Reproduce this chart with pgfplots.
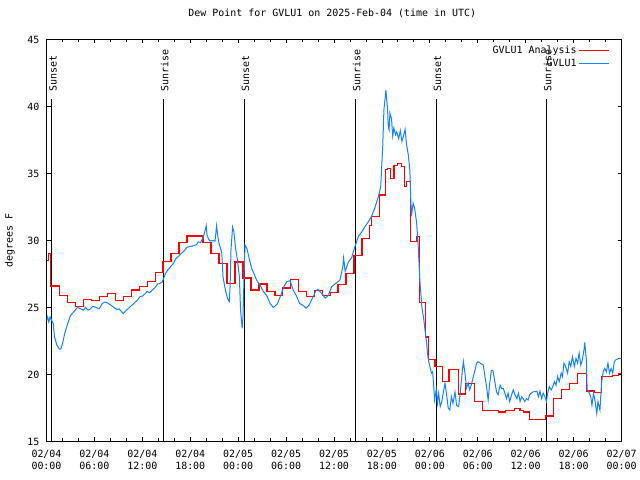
\documentclass[border=0pt]{standalone}
\usepackage{pgfplots}
\pgfplotsset{compat=1.18}
\usepackage{fontspec}
\setmainfont{DejaVu Sans Mono}
\definecolor{obsblue}{RGB}{20,130,255}
\definecolor{anared}{RGB}{255,0,0}
\begin{document}
\fontsize{10}{12}\selectfont
\begin{tikzpicture}
\useasboundingbox (0bp,0bp) rectangle (640bp,480bp);
\begin{axis}[
  at={(46.5bp,38.5bp)}, anchor=south west,
  scale only axis, width=575bp, height=402bp,
  xmin=0, xmax=72, ymin=15, ymax=45,
  axis line style={line width=0.9bp},
  xtick={0,6,...,72}, minor x tick num=2,
  ytick={15,20,...,45},
  major tick length=4bp, minor tick length=3bp,
  tick style={black, line width=0.8bp},
  xticklabels={{02/04\\00:00},{02/04\\06:00},{02/04\\12:00},{02/04\\18:00},{02/05\\00:00},{02/05\\06:00},{02/05\\12:00},{02/05\\18:00},{02/06\\00:00},{02/06\\06:00},{02/06\\12:00},{02/06\\18:00},{02/07\\00:00}},
  xticklabel style={align=center, anchor=north, inner sep=0pt, yshift=-8bp, font=\fontsize{10}{12}\selectfont},
  yticklabel style={anchor=east, inner sep=0pt, xshift=-7bp, font=\fontsize{10}{12}\selectfont},
  /pgf/number format/assume math mode=true,
  title={Dew Point for GVLU1 on 2025-Feb-04 (time in UTC)},
  title style={at={(0.497,1)}, anchor=center, inner sep=0pt, yshift=20.5bp, font=\fontsize{10}{12}\selectfont},
  ylabel={degrees F},
  ylabel style={at={(axis description cs:-0.0635,0.5)}, anchor=center, inner sep=0pt, font=\fontsize{10}{12}\selectfont},
  legend style={at={(0.98,0.99)}, anchor=north east, draw=none, fill=none, inner sep=0pt, row sep=0.5bp, font=\fontsize{10}{12}\selectfont},
  legend cell align=right, legend plot pos=right,
  legend image code/.code={\draw[#1] (0bp,0bp) -- (30bp,0bp);},
]
% sunrise / sunset lines
\addplot[black, line width=1.1bp, forget plot] coordinates {(0.65,15) (0.65,40.55)};
\addplot[black, line width=1.1bp, forget plot] coordinates {(14.63,15) (14.63,40.55)};
\addplot[black, line width=1.1bp, forget plot] coordinates {(24.77,15) (24.77,40.55)};
\addplot[black, line width=1.1bp, forget plot] coordinates {(38.7,15) (38.7,40.55)};
\addplot[black, line width=1.1bp, forget plot] coordinates {(48.8,15) (48.8,40.55)};
\addplot[black, line width=1.1bp, forget plot] coordinates {(62.6,15) (62.6,40.55)};
\node[rotate=90, anchor=west, inner sep=0pt] at (axis cs:0.8,41.1) {Sunset};
\node[rotate=90, anchor=west, inner sep=0pt] at (axis cs:14.78,41.1) {Sunrise};
\node[rotate=90, anchor=west, inner sep=0pt] at (axis cs:24.92,41.1) {Sunset};
\node[rotate=90, anchor=west, inner sep=0pt] at (axis cs:38.85,41.1) {Sunrise};
\node[rotate=90, anchor=west, inner sep=0pt] at (axis cs:48.95,41.1) {Sunset};
\node[rotate=90, anchor=west, inner sep=0pt] at (axis cs:62.75,41.1) {Sunrise};
% analysis (hourly steps)
\addplot[anared, line width=1.2bp, const plot] coordinates {
(0.0,28.5) (0.3,29.0) (0.5,26.6) (1.6,25.9) (2.6,25.4) (3.6,25.1) (4.6,25.6) (5.6,25.5)
(6.6,25.8) (7.6,26.05) (8.6,25.55) (9.6,25.85) (10.6,26.3) (11.6,26.55) (12.6,26.95)
(13.6,27.6) (14.6,28.45) (15.6,29.0) (16.6,29.85) (17.6,30.33) (19.6,29.85) (20.6,29.05)
(21.6,28.3) (22.6,26.8) (23.6,28.4) (24.6,27.2) (25.6,26.3) (26.6,26.75) (27.6,26.2)
(28.6,25.9) (29.6,26.45) (30.6,27.1) (31.6,26.2) (32.6,25.85) (33.6,26.25) (34.6,25.9)
(35.6,26.1) (36.5,26.7) (37.5,27.55) (38.5,28.9) (39.5,30.15) (40.4,31.1) (40.7,31.8)
(41.7,33.4) (42.4,35.3) (42.7,35.4) (43.1,34.6) (43.5,35.6) (44.0,35.75) (44.5,35.5)
(44.8,34.0) (45.1,34.4) (45.6,29.9) (46.4,30.3) (46.7,25.4) (47.5,22.8) (47.8,21.1)
(48.65,20.6) (49.6,19.5) (50.4,20.4) (51.6,18.55) (52.5,19.3) (53.6,18.0) (54.6,17.3)
(56.6,17.2) (57.5,17.3) (58.6,17.45) (59.3,17.3) (59.7,17.2) (60.5,16.66) (62.5,16.9)
(63.5,18.2) (64.5,18.9) (65.5,19.35) (66.5,20.1) (67.6,18.77) (68.6,18.65) (69.5,19.85)
(70.9,19.9) (71.6,20.1) (72.0,20.1)
};
\addlegendentry{GVLU1 Analysis}
% observations
\addplot[obsblue, line width=1bp] coordinates {
(0.0,24.0) (0.15,24.3) (0.3,23.9) (0.45,24.3) (0.6,24.1) (0.85,23.8) (1.0,22.8) (1.3,22.2)
(1.6,21.9) (1.8,21.9) (2.0,22.3) (2.3,23.1) (2.6,23.7) (3.0,24.4) (3.45,24.7) (3.85,25.0)
(4.3,24.9) (4.6,24.8) (4.9,25.0) (5.2,24.8) (5.5,24.9) (5.8,25.1) (6.2,25.0) (6.6,24.9)
(7.0,25.3) (7.3,25.4) (7.6,25.35) (8.0,25.2) (8.45,25.0) (8.8,24.85) (9.1,24.9) (9.6,24.55)
(10.1,24.85) (10.75,25.2) (11.1,25.4) (11.4,25.55) (11.7,25.8) (12.0,25.85) (12.3,26.0)
(12.6,26.2) (12.9,26.1) (13.25,26.3) (13.6,26.5) (13.9,26.75) (14.2,26.8) (14.5,26.9)
(14.9,27.55) (15.2,27.8) (15.55,28.05) (15.9,28.3) (16.2,28.65) (16.5,28.8) (16.8,29.0)
(17.2,29.2) (17.6,29.5) (18.0,29.55) (18.4,29.6) (18.8,29.7) (19.0,29.9) (19.3,29.85)
(19.6,30.2) (19.8,30.6) (20.0,31.1) (20.1,30.4) (20.3,30.1) (20.5,29.95) (20.8,30.0)
(21.1,29.95) (21.3,31.1) (21.45,30.3) (21.6,29.8) (21.95,29.1) (22.1,27.3) (22.4,26.3)
(22.65,25.7) (22.9,25.45) (23.0,26.8) (23.1,29.3) (23.3,31.0) (23.45,30.7) (23.7,29.3)
(23.9,28.6) (24.15,27.3) (24.3,24.8) (24.5,23.45) (24.6,24.3) (24.85,29.66) (25.1,29.4)
(25.4,28.6) (25.7,27.9) (26.0,27.5) (26.3,27.05) (26.7,26.7) (27.15,26.2) (27.6,25.86)
(28.0,25.3) (28.4,25.0) (28.9,25.26) (29.3,25.86) (29.75,26.6) (30.1,26.93) (30.5,27.0)
(30.9,26.3) (31.3,25.86) (31.7,25.3) (32.15,25.15) (32.5,24.95) (32.9,25.2) (33.3,25.7)
(33.75,26.25) (34.0,26.35) (34.45,26.05) (34.9,25.7) (35.3,25.9) (35.7,26.55) (36.1,26.75)
(36.5,26.93) (36.75,27.05) (37.1,28.05) (37.2,28.7) (37.4,27.7) (37.8,28.4) (38.2,28.7)
(38.6,29.5) (39.05,30.3) (39.5,30.66) (39.9,31.05) (40.3,31.4) (40.7,31.8) (41.1,32.4)
(41.55,33.27) (41.85,34.0) (42.1,37.0) (42.25,39.74) (42.5,41.23) (42.6,40.5) (42.7,39.9)
(42.8,38.5) (42.9,38.25) (43.0,39.5) (43.2,39.1) (43.35,37.8) (43.5,38.4) (43.7,37.9)
(43.85,38.1) (44.1,37.6) (44.3,38.2) (44.5,37.4) (44.7,37.8) (44.9,38.3) (45.1,37.1)
(45.3,36.4) (45.5,35.26) (45.6,33.27) (45.7,31.8) (45.9,32.8) (46.1,32.4) (46.35,31.3)
(46.55,29.5) (46.75,27.05) (47.0,25.06) (47.25,24.07) (47.4,23.3) (47.6,22.33) (47.7,21.6)
(47.85,21.0) (48.0,20.6) (48.2,20.1) (48.35,20.2) (48.5,19.0) (48.6,18.1) (48.8,18.9)
(48.95,17.85) (49.1,18.6) (49.3,17.6) (49.5,17.98) (49.7,18.7) (49.9,19.35) (50.1,18.5)
(50.3,17.5) (50.5,17.35) (50.7,18.35) (50.9,17.85) (51.15,18.7) (51.35,17.7) (51.6,17.6)
(51.8,18.6) (52.0,19.85) (52.2,20.96) (52.4,20.1) (52.6,19.0) (52.8,19.35) (53.0,18.85)
(53.25,19.35) (53.45,19.85) (53.65,20.3) (53.85,20.84) (54.05,20.96) (54.35,20.84)
(54.7,20.7) (54.9,19.85) (55.1,19.1) (55.3,18.1) (55.5,19.35) (55.7,20.3) (55.9,20.3)
(56.1,19.6) (56.35,18.7) (56.55,18.5) (56.8,19.2) (57.0,18.95) (57.2,18.95) (57.4,18.6)
(57.6,18.2) (57.8,18.6) (58.0,17.98) (58.25,18.5) (58.45,18.85) (58.65,18.5) (58.9,18.2)
(59.1,18.6) (59.3,17.98) (59.5,18.35) (59.7,18.2) (59.9,17.98) (60.1,18.2) (60.3,18.1)
(60.5,18.5) (60.9,18.7) (61.4,18.75) (61.6,18.35) (61.8,18.75) (62.0,18.2) (62.2,18.6)
(62.4,18.35) (62.6,17.98) (62.75,18.6) (62.95,19.1) (63.2,18.85) (63.4,19.1) (63.6,19.47)
(63.8,19.2) (64.0,19.85) (64.2,19.47) (64.45,20.1) (64.6,19.85) (64.8,20.85) (65.0,20.6)
(65.25,20.1) (65.45,20.96) (65.65,20.6) (65.85,21.33) (66.1,20.6) (66.3,21.2) (66.5,20.85)
(66.7,21.6) (66.9,20.7) (67.1,21.1) (67.3,21.83) (67.4,22.4) (67.6,21.1) (67.7,18.85)
(67.9,18.7) (68.15,18.35) (68.3,17.7) (68.5,18.6) (68.7,17.98) (68.9,17.1) (69.05,17.98)
(69.3,17.35) (69.4,18.35) (69.5,19.35) (69.7,20.2) (69.9,20.45) (70.1,20.2) (70.3,20.84)
(70.5,20.1) (70.7,20.45) (70.9,20.1) (71.1,20.96) (71.3,21.1) (71.5,21.15) (71.7,21.2)
(72.0,21.2)
};
\addlegendentry{GVLU1}
\end{axis}
\end{tikzpicture}
\end{document}
